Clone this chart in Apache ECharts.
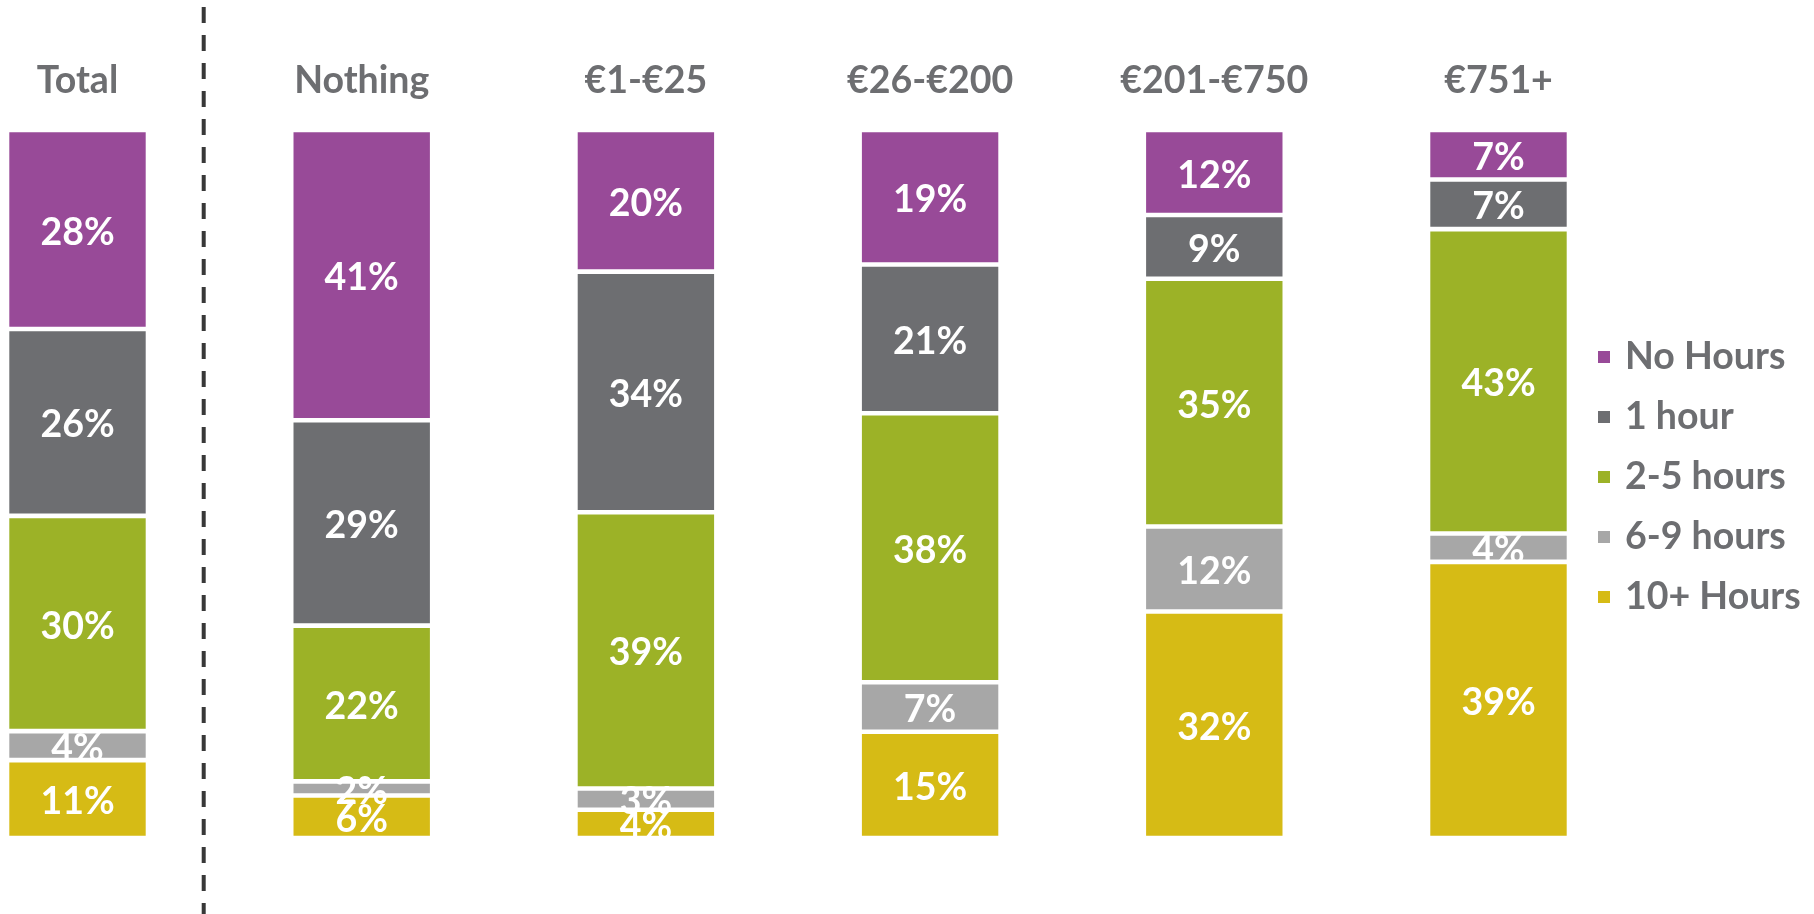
<!DOCTYPE html>
<html>
<head>
<meta charset="utf-8">
<script src="https://cdn.jsdelivr.net/npm/echarts@6/dist/echarts.min.js"></script>
<style>
  html, body { margin: 0; padding: 0; background: #fff; }
  #chart { width: 1814px; height: 914px; }
</style>
</head>
<body>
<div id="chart"></div>
<script>
// categorie di spesa (la prima è il totale, separata dalla linea tratteggiata)
const categories = ['Total', 'Nothing', '€1-€25', '€26-€200', '€201-€750', '€751+'];

// quote per fascia oraria, in % (Total stimato dai pixel: le etichette sono arrotondate)
const noHours   = [28.1, 41, 20, 19, 12, 7];
const oneHour   = [26.4, 29, 34, 21,  9, 7];
const twoFive   = [30.4, 22, 39, 38, 35, 43];
const sixNine   = [ 4.1,  2,  3,  7, 12, 4];
const tenPlus   = [11.0,  6,  4, 15, 32, 39];

const seriesNames = ['No Hours', '1 hour', '2-5 hours', '6-9 hours', '10+ Hours'];
const seriesData = [noHours, oneHour, twoFive, sixNine, tenPlus];
const colors = ['#984A98', '#6D6E71', '#9CB227', '#A7A7A7', '#D6BB15'];

const FONT = 'Lato';
const GREY = '#6D6E71';
const FS = 37.5;

const chart = echarts.init(document.getElementById('chart'));

chart.setOption({
  animation: false,
  textStyle: { fontFamily: FONT },
  grid: { left: 77.5, right: 315.5, top: 130, bottom: 76 },
  xAxis: {
    type: 'category',
    position: 'top',
    boundaryGap: false,
    data: categories,
    axisLine: { show: false },
    axisTick: { show: false },
    axisLabel: {
      margin: 49, verticalAlign: 'middle',
      color: GREY, fontFamily: FONT, fontWeight: 'bold', fontSize: FS
    }
  },
  // asse invertito: la prima serie (No Hours) sta in cima alla pila
  yAxis: { type: 'value', min: 0, max: 100, inverse: true, show: false },
  legend: {
    orient: 'vertical',
    left: 1596, top: 337, padding: 0,
    icon: 'rect', itemWidth: 14, itemHeight: 14, itemGap: 20,
    textStyle: { color: GREY, fontFamily: FONT, fontWeight: 'bold', fontSize: FS, lineHeight: 40, padding: [0, 0, 0, 9] },
    data: seriesNames
  },
  // separatore tra totale e fasce di spesa
  graphic: [{
    type: 'line', silent: true, z: 100,
    shape: { x1: 203.7, y1: 7, x2: 203.7, y2: 914 },
    style: { stroke: '#383838', lineWidth: 4, lineDash: [16, 12] }
  }],
  series: seriesNames.map((name, i) => ({
    name: name,
    type: 'bar',
    stack: 'tot',
    barWidth: 141,
    clip: false,
    data: seriesData[i],
    itemStyle: { color: colors[i], borderColor: '#fff', borderWidth: 2.3 },
    label: {
      show: true, position: 'inside', offset: [0, 3],
      color: '#fff', fontFamily: FONT, fontWeight: 'bold', fontSize: FS,
      formatter: p => Math.round(p.value) + '%'
    }
  }))
});
</script>
</body>
</html>
